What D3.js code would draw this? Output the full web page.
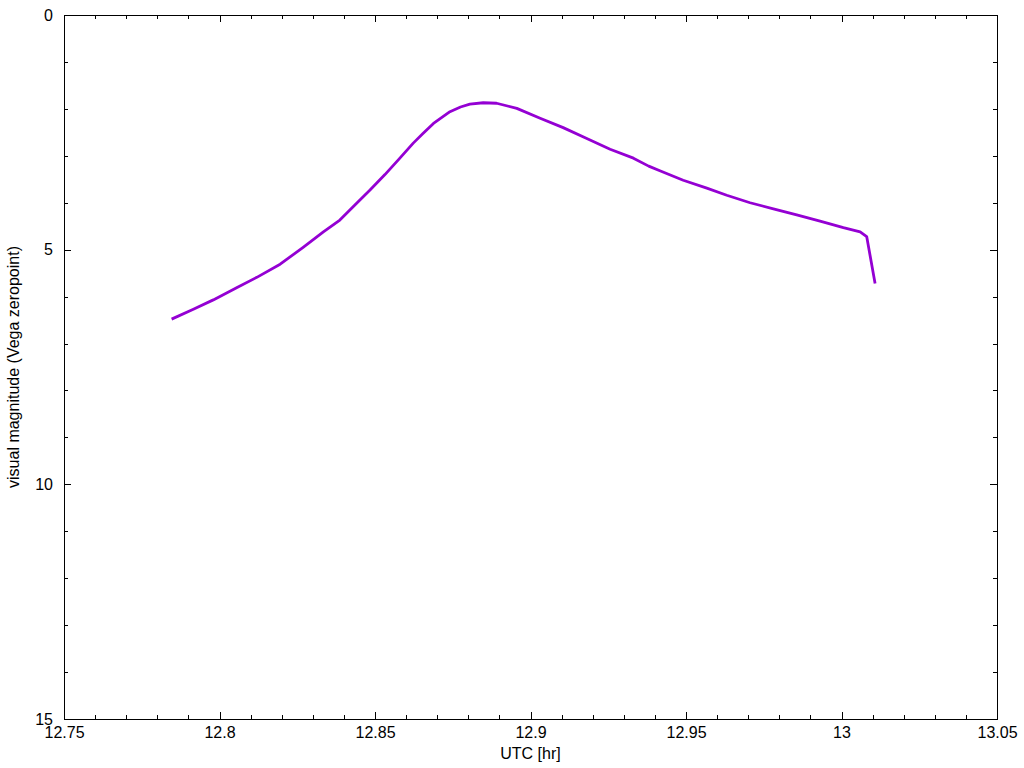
<!DOCTYPE html>
<html>
<head>
<meta charset="utf-8">
<script src="https://cdn.jsdelivr.net/npm/d3@7"></script>
<style>
  body { margin: 0; background: #fff; }
  #container { width: 1024px; height: 768px; }
  text { font-family: Arial, "Liberation Sans", sans-serif; fill: #000; }
  .domain { display: none; }
  .tick line { stroke: #000; shape-rendering: crispEdges; }
</style>
</head>
<body>
<div id="container"></div>
<script>
// UTC hour and visual magnitude
const utcHours = [12.7846, 12.7916, 12.7980, 12.8055, 12.8120, 12.8195, 12.8269, 12.8334,
                  12.8387, 12.8441, 12.8484, 12.8532, 12.8580, 12.8623, 12.8655, 12.8688,
                  12.8741, 12.8775, 12.8805, 12.8848, 12.8891, 12.8956, 12.9031, 12.9105,
                  12.9181, 12.9256, 12.9331, 12.9380, 12.9416, 12.9491, 12.9567, 12.9631,
                  12.9706, 12.9781, 12.9856, 12.9931, 13.0006, 13.0060, 13.0081, 13.0108];
const magnitudes = [6.48, 6.27, 6.07, 5.81, 5.59, 5.31, 4.95, 4.62,
                    4.37, 4.01, 3.73, 3.40, 3.05, 2.73, 2.52, 2.31,
                    2.06, 1.96, 1.90, 1.87, 1.88, 1.99, 2.20, 2.40,
                    2.63, 2.86, 3.05, 3.22, 3.32, 3.52, 3.69, 3.84,
                    4.00, 4.13, 4.26, 4.39, 4.53, 4.62, 4.72, 5.72];

const xTicks = [12.75, 12.8, 12.85, 12.9, 12.95, 13, 13.05];
const xMinorTicks = d3.range(0, 31).map((i) => 12.75 + i * 0.01).filter((_, i) => i % 5 != 0);
const yTicks = [0, 5, 10, 15];
const yMinorTicks = d3.range(0, 16).filter((v) => v % 5 != 0);

document.addEventListener("DOMContentLoaded", () => {
  makeChart();
});

function makeChart(){
  const w = 1024;
  const h = 768;
  const left = 64, right = 997, top = 15, bottom = 719;
  const fontSize = "16px";

  const xScale = d3.scaleLinear()
                   .domain([12.75, 13.05])
                   .range([left, right]);
  const yScale = d3.scaleLinear()
                   .domain([0, 15])
                   .range([top, bottom]);

  let svg = d3.select("#container")
              .append("svg")
              .attr("width", w)
              .attr("height", h);

  // major + minor ticks on all four sides, pointing inward
  svg.append("g")
     .attr("transform", "translate(0," + bottom + ")")
     .style("font-size", fontSize)
     .call(d3.axisBottom(xScale).tickValues(xTicks).tickSize(-7).tickPadding(8)
             .tickFormat(d3.format("")));
  svg.append("g")
     .attr("transform", "translate(0," + bottom + ")")
     .call(d3.axisBottom(xScale).tickValues(xMinorTicks).tickSize(-4).tickFormat(""));
  svg.append("g")
     .attr("transform", "translate(0," + top + ")")
     .call(d3.axisTop(xScale).tickValues(xTicks).tickSize(-7).tickFormat(""));
  svg.append("g")
     .attr("transform", "translate(0," + top + ")")
     .call(d3.axisTop(xScale).tickValues(xMinorTicks).tickSize(-4).tickFormat(""));

  svg.append("g")
     .attr("transform", "translate(" + left + ",0)")
     .style("font-size", fontSize)
     .call(d3.axisLeft(yScale).tickValues(yTicks).tickSize(-7).tickPadding(11));
  svg.append("g")
     .attr("transform", "translate(" + left + ",0)")
     .call(d3.axisLeft(yScale).tickValues(yMinorTicks).tickSize(-4).tickFormat(""));
  svg.append("g")
     .attr("transform", "translate(" + right + ",0)")
     .call(d3.axisRight(yScale).tickValues(yTicks).tickSize(-7).tickFormat(""));
  svg.append("g")
     .attr("transform", "translate(" + right + ",0)")
     .call(d3.axisRight(yScale).tickValues(yMinorTicks).tickSize(-4).tickFormat(""));

  svg.selectAll(".tick text").style("font-family", "Arial, 'Liberation Sans', sans-serif");

  // frame
  svg.append("rect")
     .attr("x", left + 0.5)
     .attr("y", top + 0.5)
     .attr("width", right - left)
     .attr("height", bottom - top)
     .attr("fill", "none")
     .attr("stroke", "#000")
     .attr("stroke-width", 1);

  const line = d3.line()
                 .x((d, i) => xScale(utcHours[i]))
                 .y((d) => yScale(d));

  svg.append("path")
     .datum(magnitudes)
     .attr("d", line)
     .attr("fill", "none")
     .attr("stroke", "#9400d3")
     .attr("stroke-width", 2.8)
     .attr("stroke-linejoin", "round");

  svg.append("text")
     .attr("x", (left + right) / 2)
     .attr("y", 759)
     .attr("text-anchor", "middle")
     .style("font-size", fontSize)
     .text("UTC [hr]");

  svg.append("text")
     .attr("transform", "translate(19," + (top + bottom) / 2 + ") rotate(-90)")
     .attr("text-anchor", "middle")
     .style("font-size", fontSize)
     .text("visual magnitude (Vega zeropoint)");
}
</script>
</body>
</html>
